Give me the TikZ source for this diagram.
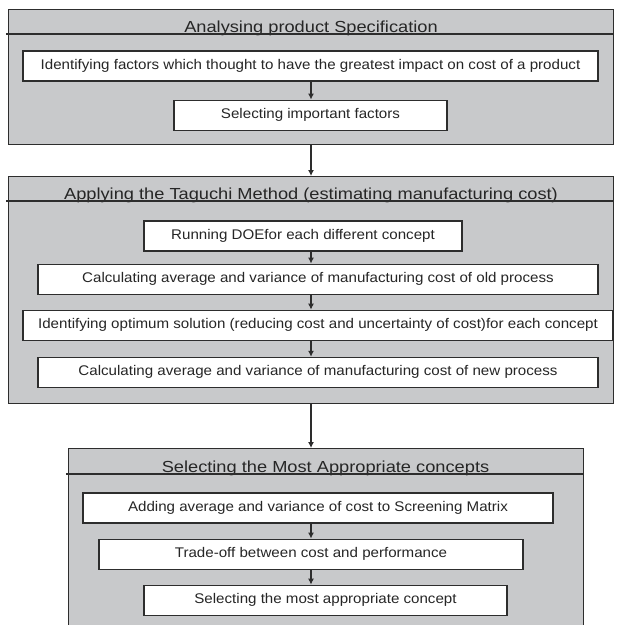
\documentclass[tikz,border=0pt]{standalone}
\usepackage{fontspec}
\setmainfont{Liberation Sans}
\newfontfamily\stepfont[FakeStretch=1.08]{Liberation Sans}
\newfontfamily\headfont[FakeStretch=1.14]{Liberation Sans}
\usepackage{tikz}
\usetikzlibrary{positioning,arrows.meta}
\definecolor{panelgray}{RGB}{200,201,203}
\definecolor{edgegray}{RGB}{45,45,45}

\begin{document}
\begin{tikzpicture}
[
  x=1pt, y=-1pt,
  stage/.style={draw=edgegray, line width=1.2pt, fill=panelgray, anchor=north west, inner sep=0pt},
  heading/.style={anchor=base, inner sep=0pt, text=black!85, font=\headfont\fontsize{16}{18}\selectfont},
  task/.style={draw=edgegray, line width=1.1pt, fill=white, minimum width=#1, minimum height=30pt, inner sep=0pt, text=black!85, font=\stepfont\fontsize{14}{16}\selectfont},
  rule/.style={draw=edgegray, line width=1.2pt},
  flow/.style={draw=edgegray, line width=1.1pt, -{Latex[length=6pt,width=6pt]}}
]
\clip (0,0) rectangle (619,625);
\coordinate (ax) at (311,0);

% the three stages
\node (spec) [stage, minimum width=605pt, minimum height=135pt] at (8,9) {};
\node (tag) [stage, minimum width=605pt, minimum height=227pt] at (8,176) {};
\node (sel) [stage, minimum width=515pt, minimum height=200pt] at (68,448) {};

\node (spec-t) [heading] at (311,32) {Analysing product Specification};
\node (tag-t) [heading] at (311,199) {Applying the Taguchi Method (estimating manufacturing cost)};
\node (sel-t) [heading] at (325.5,472) {Selecting the Most Appropriate concepts};

\foreach \s/\d in {spec/25,tag/25,sel/26}
  \draw [rule] ([xshift=-2pt,yshift=-\d pt]\s.north west) -- ([yshift=-\d pt]\s.north east);

% steps
\node (f1) [task=575pt] at (310.5,66) {Identifying factors which thought to have the greatest impact on cost of a product};
\node (f2) [below=18pt of f1, task=273pt] {Selecting important factors};

\node (d1) [task=318pt] at (303,236) {Running DOEfor each different concept};
\node (d2) [below=12pt of d1, xshift=15pt, task=560pt] {Calculating average and variance of manufacturing cost of old process};
\node (d3) [below=15pt of d2, task=590pt] {Identifying optimum solution (reducing cost and uncertainty of cost)for each concept};
\node (d4) [below=16pt of d3, task=560pt] {Calculating average and variance of manufacturing cost of new process};

\node (c1) [task=470pt] at (318,508) {Adding average and variance of cost to Screening Matrix};
\node (c2) [below=15pt of c1, xshift=-7pt, task=424pt] {Trade-off between cost and performance};
\node (c3) [below=15pt of c2, xshift=14.5pt, task=363pt] {Selecting the most appropriate concept};

\foreach \i/\j in {f1/f2,spec/tag,d1/d2,d2/d3,d3/d4,tag/sel,c1/c2,c2/c3}
  \draw [flow] (\i.south -| ax) -- (\j.north -| ax);
\end{tikzpicture}
\end{document}
